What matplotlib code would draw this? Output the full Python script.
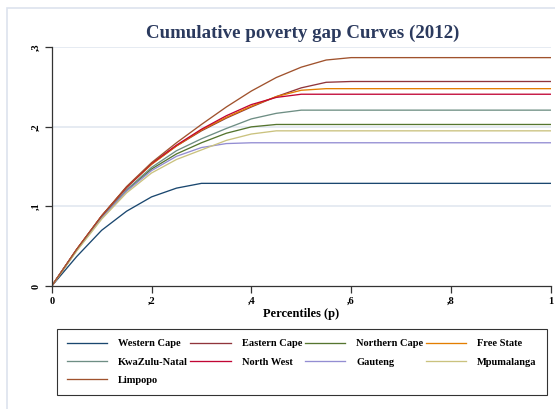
import numpy as np
import matplotlib
matplotlib.use("Agg")
import matplotlib.pyplot as plt
from matplotlib.patches import Rectangle

plt.rcParams['font.family'] = ['Liberation Serif', 'DejaVu Serif']

# percentile grid (p) and cumulative poverty gap per province
p = [0, .05, .1, .15, .2, .25, .3, .35, .4, .45, .5, .55, .6, 1]

western_cape  = [0, .037, .070, .094, .112, .123, .129, .129, .129, .129, .129, .129, .129, .129]
eastern_cape  = [0, .046, .088, .124, .153, .176, .195, .211, .225, .238, .249, .256, .257, .257]
northern_cape = [0, .045, .086, .120, .147, .166, .180, .192, .200, .203, .203, .203, .203, .203]
free_state    = [0, .046, .088, .124, .153, .176, .196, .212, .226, .238, .246, .248, .248, .248]
kwazulu_natal = [0, .045, .086, .121, .149, .170, .185, .198, .210, .217, .221, .221, .221, .221]
north_west    = [0, .046, .088, .124, .154, .177, .197, .214, .228, .237, .241, .241, .241, .241]
gauteng       = [0, .045, .085, .119, .145, .163, .174, .179, .180, .180, .180, .180, .180, .180]
mpumalanga    = [0, .044, .084, .117, .142, .159, .171, .183, .191, .195, .195, .195, .195, .195]
limpopo       = [0, .046, .088, .125, .155, .180, .203, .225, .245, .262, .275, .284, .287, .287]

series = [
    ("Western Cape", western_cape, "#1a476f"),
    ("Eastern Cape", eastern_cape, "#90353b"),
    ("Northern Cape", northern_cape, "#55752f"),
    ("Free State", free_state, "#e37e00"),
    ("KwaZulu-Natal", kwazulu_natal, "#6e8e84"),
    ("North West", north_west, "#c10534"),
    ("Gauteng", gauteng, "#938dd2"),
    ("Mpumalanga", mpumalanga, "#cac27e"),
    ("Limpopo", limpopo, "#a0522d"),
]

x_ticks = [0, .2, .4, .6, .8, 1]
x_labels = ["0", ",2", ",4", ",6", ",8", "1"]
y_ticks = [0, .1, .2, .3]
y_labels = ["0", ",1", ",2", ",3"]

fig = plt.figure(figsize=(5.55, 4.09), dpi=100)
fig.patch.set_facecolor("white")
# outer graph region frame
fig.patches.append(Rectangle((7 / 555, -0.05), 1.1, (409 - 8) / 409 + 0.05,
                             transform=fig.transFigure, fill=False,
                             edgecolor="#dde3ee", linewidth=1.2))

ax = fig.add_axes([0.0932, 0.3007, 0.8991, 0.5837])
handles = {}
for name, vals, col in series:
    h, = ax.plot(p, vals, color=col, lw=0.95, label=name)
    handles[name] = h

ax.set_xlim(0, 1)
ax.set_ylim(0, .3)
for y in y_ticks[1:]:
    ax.axhline(y, color="#e6ebf2", lw=1.4, zorder=0)

ax.set_xticks(x_ticks)
ax.set_xticklabels(x_labels, fontsize=7.5, fontweight="bold")
ax.set_yticks(y_ticks)
ax.set_yticklabels(y_labels, fontsize=7.5, fontweight="bold", rotation=90, va="center")
ax.tick_params(direction="out", length=5, width=0.9, color="#333333", pad=3)
for s in ["top", "right"]:
    ax.spines[s].set_visible(False)
for s in ["left", "bottom"]:
    ax.spines[s].set_color("#333333")
    ax.spines[s].set_linewidth(0.9)

ax.set_xlabel("Percentiles (p)", fontsize=9, fontweight="bold", labelpad=1)
fig.text(0.545, 0.918, "Cumulative poverty gap Curves (2012)", ha="center", va="center",
         fontsize=13.6, fontweight="bold", color="#2b3a5e")

# legend filled column-wise so rows read across
order = ["Western Cape", "KwaZulu-Natal", "Limpopo", "Eastern Cape", "North West",
         "Northern Cape", "Gauteng", "Free State", "Mpumalanga"]
leg = fig.legend([handles[n] for n in order], order, ncol=4, loc="upper left",
                 bbox_to_anchor=(0.102, 0.034, 0.883, 0.161), mode="expand",
                 prop={"size": 7.5, "weight": "bold"}, handlelength=3.9,
                 handletextpad=1.05, columnspacing=0.6, labelspacing=0.85,
                 borderpad=0.95, fancybox=False, edgecolor="black", borderaxespad=0)
leg.get_frame().set_linewidth(0.8)

fig.savefig("out.png", dpi=100)
